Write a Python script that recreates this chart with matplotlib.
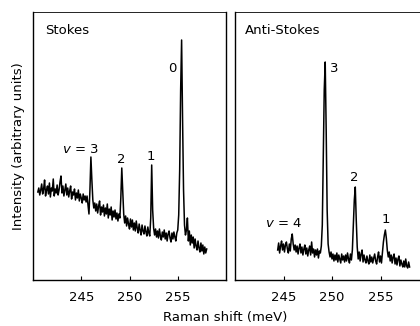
import numpy as np
import matplotlib.pyplot as plt

# --- datos (intensidad en unidades arbitrarias) ---
# Stokes: 240.5 ... 258.0 meV, paso 0.1
stokes_x0, stokes_x1 = 240.5, 258.0
stokes_I = [
    88, 92, 85, 90, 96, 86, 91, 100, 84, 90,
    94, 86, 97, 83, 92, 89, 101, 84, 91, 87,
    95, 85, 90, 98, 104, 87, 94, 84, 90, 96,
    85, 92, 83, 89, 94, 81, 88, 85, 91, 80,
    87, 82, 90, 79, 86, 82, 77, 86, 80, 84,
    78, 84, 75, 66, 90, 123, 100, 80, 72, 77,
    69, 76, 67, 74, 79, 65, 73, 68, 75, 64,
    72, 66, 76, 62, 71, 65, 73, 60, 69, 63,
    70, 61, 67, 59, 66, 62, 82, 112, 90, 66,
    57, 64, 54, 62, 56, 51, 61, 53, 60, 50,
    57, 49, 59, 52, 47, 56, 50, 45, 55, 49,
    46, 54, 48, 44, 53, 47, 44, 62, 115, 70,
    52, 45, 51, 43, 49, 42, 51, 44, 40, 48,
    43, 50, 41, 47, 39, 46, 49, 42, 38, 47,
    41, 48, 43, 39, 47, 50, 65, 110, 190, 240,
    160, 90, 55, 45, 50, 62, 39, 49, 35, 45,
    37, 43, 32, 41, 34, 30, 39, 32, 28, 37,
    29, 35, 26, 33, 27, 31,
]

# Anti-Stokes: 244.4 ... 258.0 meV, paso 0.1
anti_x0, anti_x1 = 244.4, 258.0
anti_I = [
    30, 37, 27, 34, 39, 30, 36, 28, 35, 38,
    31, 27, 36, 29, 41, 46, 36, 30, 35, 28,
    34, 26, 32, 36, 27, 33, 25, 31, 35, 26,
    32, 24, 30, 34, 25, 38, 27, 31, 23, 30,
    25, 31, 22, 29, 27, 34, 55, 120, 190, 218,
    150, 70, 36, 28, 23, 28, 21, 26, 19, 25,
    20, 27, 18, 25, 21, 17, 26, 20, 24, 18,
    25, 19, 27, 21, 17, 26, 20, 30, 55, 80,
    93, 60, 33, 21, 28, 19, 26, 30, 18, 25,
    20, 17, 24, 19, 16, 25, 18, 23, 17, 22,
    26, 19, 16, 23, 28, 18, 24, 17, 28, 38,
    45, 50, 42, 30, 23, 28, 19, 25, 17, 23,
    26, 16, 22, 15, 21, 24, 14, 20, 16, 13,
    19, 13, 21, 14, 12, 18, 13,
]

xticks = [245, 250, 255]

stokes_x = np.linspace(stokes_x0, stokes_x1, len(stokes_I))
anti_x = np.linspace(anti_x0, anti_x1, len(anti_I))

# ============================================================
#  Figura
# ============================================================

plt.rcParams.update({"font.family": "DejaVu Sans", "font.size": 9})

fig = plt.figure(figsize=(4.2, 3.26), dpi=100)
H = 326.0
W = 420.0
bot = (H - 280) / H
hgt = (280 - 12) / H
ax1 = fig.add_axes([33 / W, bot, (226 - 33) / W, hgt])
ax2 = fig.add_axes([235 / W, bot, (429 - 235) / W, hgt])

for ax, x, y in [(ax1, stokes_x, stokes_I), (ax2, anti_x, anti_I)]:
    ax.plot(x, y, color="black", lw=1.1)
    ax.set_xlim(240, 260)
    ax.set_ylim(0, 268)
    ax.set_yticks([])
    ax.set_xticks(xticks)
    ax.tick_params(axis="x", direction="in", length=3, width=0.8, pad=8,
                   labelsize=9.5)
    for s in ax.spines.values():
        s.set_linewidth(1.0)
    ax.spines["top"].set_linewidth(0.6)

# ── Stokes ───────────────────────────────────────
ax1.text(241.3, 256, "Stokes", ha="left", va="top", fontsize=9.5)
ax1.text(244.9, 124, r"$v$ = 3", ha="center", va="bottom", fontsize=9.5)
ax1.text(249.1, 114, "2", ha="center", va="bottom", fontsize=9.5)
ax1.text(252.2, 117, "1", ha="center", va="bottom", fontsize=9.5)
ax1.text(254.4, 205, "0", ha="center", va="bottom", fontsize=9.5)
ax1.set_ylabel("Intensity (arbitrary units)", fontsize=9.5, labelpad=6)

# ── Anti-Stokes ─────────────────────────────────────
ax2.text(241.0, 256, "Anti-Stokes", ha="left", va="top", fontsize=9.5)
ax2.text(250.2, 205, "3", ha="center", va="bottom", fontsize=9.5)
ax2.text(252.3, 96, "2", ha="center", va="bottom", fontsize=9.5)
ax2.text(255.5, 54, "1", ha="center", va="bottom", fontsize=9.5)
ax2.text(245.0, 50, r"$v$ = 4", ha="center", va="bottom", fontsize=9.5)

fig.text(225 / W, 1 - 318 / H, "Raman shift (meV)", ha="center", va="center",
         fontsize=9.5)

fig.savefig("out.png", dpi=100)
